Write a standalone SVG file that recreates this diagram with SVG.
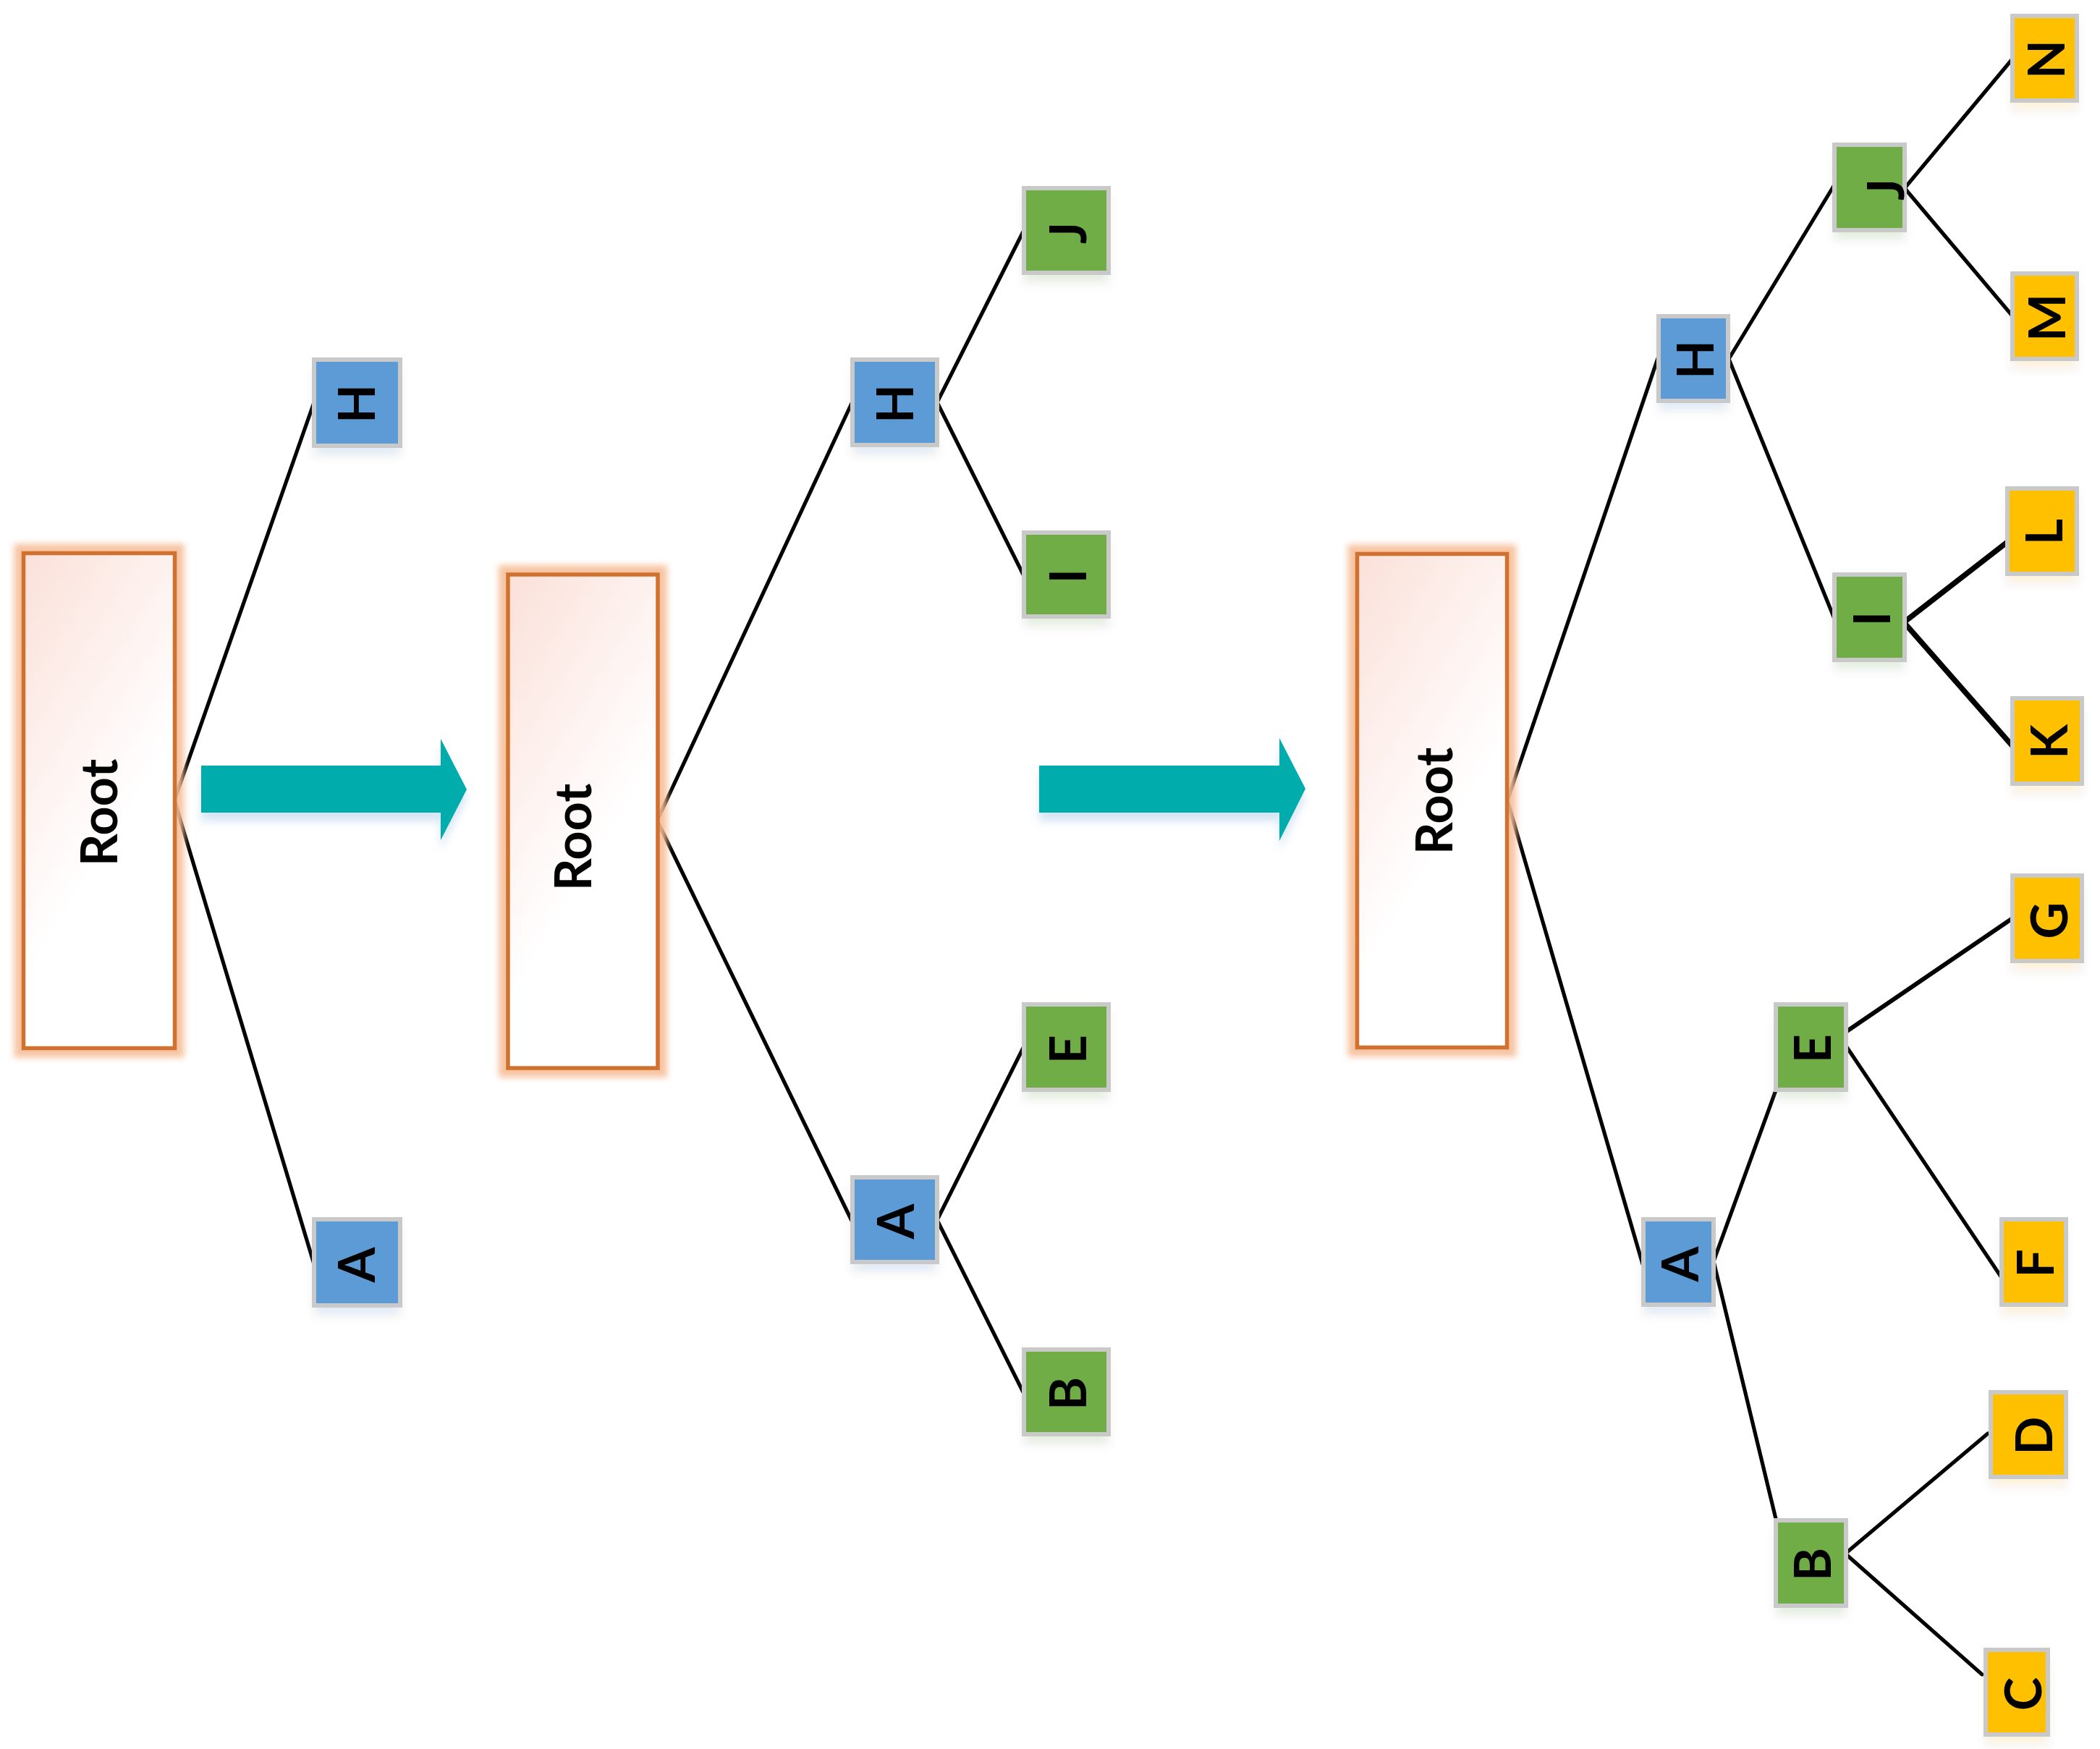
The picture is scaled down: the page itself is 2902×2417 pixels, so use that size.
<svg xmlns="http://www.w3.org/2000/svg" width="2902" height="2417" viewBox="0 0 2902 2417">
<style>
.box{stroke:#C9C9C9;stroke-width:6}
.blue{fill:#5B9BD5}
.green{fill:#70AD47}
.yellow{fill:#FFC000}
.lbl{font-family:Lato,"Open Sans","Liberation Sans",sans-serif;font-weight:bold;font-size:70px;fill:#000;text-anchor:middle}
.edge{stroke:#000;stroke-width:5.2;fill:none;stroke-linecap:round}
.thick{stroke-width:7.5}
.rootbox{fill:url(#rootfill);stroke:#D0712F;stroke-width:5.5}
.glow{fill:none;stroke:#F6BE98;stroke-width:26;opacity:0.9}
.arrow{fill:#02ACAC}
</style>
<defs>
<linearGradient id="rootfill" x1="0" y1="0" x2="0.35" y2="0.7">
<stop offset="0" stop-color="#FBE0D9"/>
<stop offset="1" stop-color="#FFFFFF"/>
</linearGradient>
<filter id="blur" x="-20%" y="-20%" width="140%" height="140%">
<feGaussianBlur stdDeviation="4"/>
</filter>
<filter id="sh" x="-30%" y="-30%" width="160%" height="180%">
<feGaussianBlur in="SourceGraphic" stdDeviation="6" result="b"/>
<feOffset in="b" dy="14" result="o"/>
<feComponentTransfer in="o" result="oa"><feFuncA type="linear" slope="0.2"/></feComponentTransfer>
<feMerge><feMergeNode in="oa"/><feMergeNode in="SourceGraphic"/></feMerge>
</filter>
<filter id="ash" x="-10%" y="-30%" width="120%" height="180%">
<feFlood flood-color="#5B9BD5" flood-opacity="0.25" result="f"/>
<feComposite in="f" in2="SourceAlpha" operator="in" result="c"/>
<feGaussianBlur in="c" stdDeviation="6" result="b"/>
<feOffset in="b" dy="12" result="o"/>
<feMerge><feMergeNode in="o"/><feMergeNode in="SourceGraphic"/></feMerge>
</filter>
</defs>
<rect width="2902" height="2417" fill="#FFFFFF"/>

<g id="connectors">
<line class="edge" x1="241" y1="1106" x2="434" y2="556"/>
<line class="edge" x1="241" y1="1106" x2="434" y2="1747"/>
<line class="edge" x1="908" y1="1134" x2="1178" y2="555"/>
<line class="edge" x1="908" y1="1134" x2="1177" y2="1687"/>
<line class="edge" x1="1295" y1="556" x2="1415" y2="318"/>
<line class="edge" x1="1295" y1="556" x2="1415" y2="796"/>
<line class="edge" x1="1295" y1="1686" x2="1415" y2="1446"/>
<line class="edge" x1="1295" y1="1686" x2="1415" y2="1926"/>
<line class="edge" x1="2083" y1="1106" x2="2291" y2="495"/>
<line class="edge" x1="2083" y1="1106" x2="2270" y2="1747"/>
<line class="edge" x1="2389" y1="496" x2="2534" y2="257"/>
<line class="edge" x1="2389" y1="496" x2="2535" y2="855"/>
<line class="edge" x1="2632" y1="260" x2="2783" y2="79"/>
<line class="edge" x1="2632" y1="260" x2="2783" y2="439"/>
<line class="edge thick" x1="2631" y1="860" x2="2774" y2="749"/>
<line class="edge thick" x1="2631" y1="860" x2="2782" y2="1032"/>
<line class="edge" x1="2368" y1="1743" x2="2455" y2="1504"/>
<line class="edge" x1="2368" y1="1743" x2="2455" y2="2103"/>
<line class="edge" x1="2542" y1="1432" x2="2784" y2="1267" style="stroke-width:6"/>
<line class="edge" x1="2542" y1="1432" x2="2765" y2="1764"/>
<line class="edge" x1="2550" y1="2147" x2="2747" y2="1981"/>
<line class="edge" x1="2550" y1="2147" x2="2739" y2="2314"/>
</g>

<g id="arrow1">
<polygon class="arrow" filter="url(#ash)" points="278,1058 609,1058 609,1021 645,1091 609,1161 609,1123 278,1123"/>
</g>
<g id="arrow2">
<polygon class="arrow" filter="url(#ash)" points="1436,1058 1768,1058 1768,1020 1804,1090 1768,1162 1768,1123 1436,1123"/>
</g>

<g id="p1-root">
<rect class="glow" filter="url(#blur)" x="32.5" y="764.5" width="209" height="684"/>
<rect class="rootbox" x="32.5" y="764.5" width="209" height="684"/>
<text class="lbl" transform="translate(137,1123) rotate(-90)" y="25">Root</text>
</g>
<g id="p1-H">
<rect class="box blue" filter="url(#sh)" x="434" y="497" width="119" height="119"/>
<text class="lbl" transform="translate(493,558) rotate(-90)" y="25">H</text>
</g>
<g id="p1-A">
<rect class="box blue" filter="url(#sh)" x="434" y="1685" width="119" height="119"/>
<text class="lbl" transform="translate(493,1748) rotate(-90)" y="25">A</text>
</g>

<g id="p2-root">
<rect class="glow" filter="url(#blur)" x="702" y="794" width="207" height="682"/>
<rect class="rootbox" x="702" y="794" width="207" height="682"/>
<text class="lbl" transform="translate(792,1157) rotate(-90)" y="25">Root</text>
</g>
<g id="p2-H">
<rect class="box blue" filter="url(#sh)" x="1178" y="497" width="117" height="118"/>
<text class="lbl" transform="translate(1237,558) rotate(-90)" y="25">H</text>
</g>
<g id="p2-A">
<rect class="box blue" filter="url(#sh)" x="1178" y="1627" width="117" height="117"/>
<text class="lbl" transform="translate(1238,1688) rotate(-90)" y="25">A</text>
</g>
<g id="p2-J">
<rect class="box green" filter="url(#sh)" x="1415" y="260" width="117" height="117"/>
<text class="lbl" transform="translate(1476,322) rotate(-90)" y="25">J</text>
</g>
<g id="p2-I">
<rect class="box green" filter="url(#sh)" x="1415" y="736" width="117" height="116"/>
<text class="lbl" transform="translate(1476,796) rotate(-90)" y="25">I</text>
</g>
<g id="p2-E">
<rect class="box green" filter="url(#sh)" x="1415" y="1388" width="117" height="118"/>
<text class="lbl" transform="translate(1476,1450) rotate(-90)" y="25">E</text>
</g>
<g id="p2-B">
<rect class="box green" filter="url(#sh)" x="1415" y="1865" width="117" height="117"/>
<text class="lbl" transform="translate(1476,1926) rotate(-90)" y="25">B</text>
</g>

<g id="p3-root">
<rect class="glow" filter="url(#blur)" x="1875.5" y="765.5" width="207" height="682"/>
<rect class="rootbox" x="1875.5" y="765.5" width="207" height="682"/>
<text class="lbl" transform="translate(1982,1107) rotate(-90)" y="25">Root</text>
</g>
<g id="p3-H">
<rect class="box blue" filter="url(#sh)" x="2292" y="437" width="96" height="117"/>
<text class="lbl" transform="translate(2343,497) rotate(-90)" y="25">H</text>
</g>
<g id="p3-A">
<rect class="box blue" filter="url(#sh)" x="2271" y="1685" width="97" height="118"/>
<text class="lbl" transform="translate(2322,1747) rotate(-90)" y="25">A</text>
</g>
<g id="p3-J">
<rect class="box green" filter="url(#sh)" x="2535" y="200" width="97" height="118"/>
<text class="lbl" transform="translate(2606,262) rotate(-90)" y="25">J</text>
</g>
<g id="p3-I">
<rect class="box green" filter="url(#sh)" x="2535" y="794" width="97" height="118"/>
<text class="lbl" transform="translate(2587,855) rotate(-90)" y="25">I</text>
</g>
<g id="p3-E">
<rect class="box green" filter="url(#sh)" x="2454" y="1388" width="97" height="118"/>
<text class="lbl" transform="translate(2505,1449) rotate(-90)" y="25">E</text>
</g>
<g id="p3-B">
<rect class="box green" filter="url(#sh)" x="2454" y="2101" width="97" height="118"/>
<text class="lbl" transform="translate(2505,2162) rotate(-90)" y="25">B</text>
</g>
<g id="p3-N">
<rect class="box yellow" filter="url(#sh)" x="2781" y="22" width="89" height="117"/>
<text class="lbl" transform="translate(2828,82) rotate(-90)" y="25">N</text>
</g>
<g id="p3-M">
<rect class="box yellow" filter="url(#sh)" x="2781" y="378" width="89" height="118"/>
<text class="lbl" transform="translate(2829,439) rotate(-90)" y="25">M</text>
</g>
<g id="p3-L">
<rect class="box yellow" filter="url(#sh)" x="2774" y="675" width="96" height="118"/>
<text class="lbl" transform="translate(2825,735) rotate(-90)" y="25">L</text>
</g>
<g id="p3-K">
<rect class="box yellow" filter="url(#sh)" x="2781" y="965" width="96" height="118"/>
<text class="lbl" transform="translate(2832,1025) rotate(-90)" y="25">K</text>
</g>
<g id="p3-G">
<rect class="box yellow" filter="url(#sh)" x="2781" y="1210" width="96" height="118"/>
<text class="lbl" transform="translate(2832,1272) rotate(-90)" y="25">G</text>
</g>
<g id="p3-F">
<rect class="box yellow" filter="url(#sh)" x="2766" y="1685" width="89" height="118"/>
<text class="lbl" transform="translate(2813,1746) rotate(-90)" y="25">F</text>
</g>
<g id="p3-D">
<rect class="box yellow" filter="url(#sh)" x="2751" y="1924" width="104" height="117"/>
<text class="lbl" transform="translate(2811,1984) rotate(-90)" y="25">D</text>
</g>
<g id="p3-C">
<rect class="box yellow" filter="url(#sh)" x="2744" y="2280" width="86" height="117"/>
<text class="lbl" transform="translate(2796,2341) rotate(-90)" y="25">C</text>
</g>
</svg>
